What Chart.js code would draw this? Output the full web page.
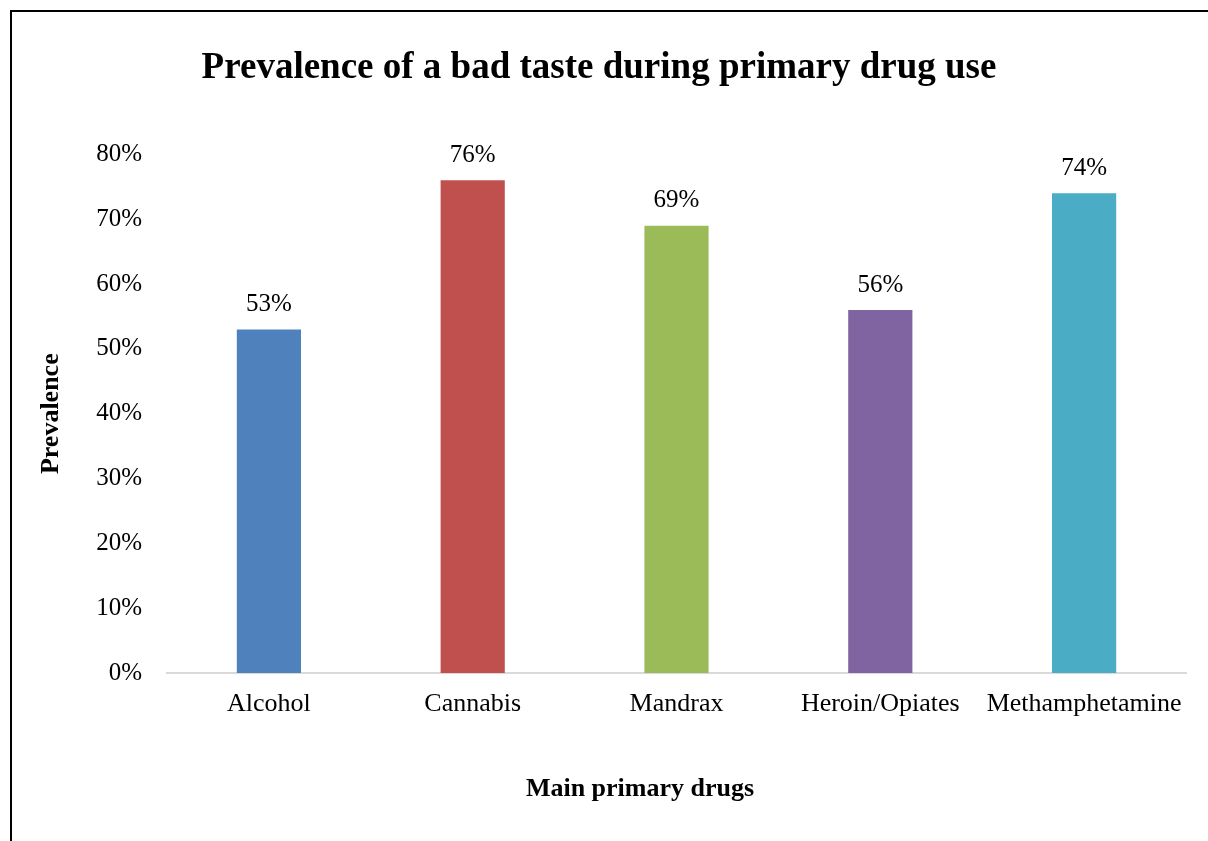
<!DOCTYPE html>
<html>
<head>
<meta charset="utf-8">
<script src="https://cdn.jsdelivr.net/npm/chart.js@4/dist/chart.umd.min.js"></script>
<style>
  html, body { margin: 0; padding: 0; background: #fff; }
  #wrap { position: relative; width: 1208px; height: 841px; }
</style>
</head>
<body>
<div id="wrap"><canvas id="chart" width="1208" height="841"></canvas></div>
<script>
// Main primary drugs and the share of users reporting a bad taste (%)
const categories = ['Alcohol', 'Cannabis', 'Mandrax', 'Heroin/Opiates', 'Methamphetamine'];
const prevalence = [53, 76, 69, 56, 74];
const barColors = ['#4F81BD', '#C0504D', '#9BBB59', '#8064A2', '#4BACC6'];
const yTicks = [0, 10, 20, 30, 40, 50, 60, 70, 80];
const xAxisTitle = 'Main primary drugs';

const serif = '"Liberation Serif", "Times New Roman", serif';

// Thin frame along the top and left edges of the figure
const framePlugin = {
  id: 'frame',
  beforeDraw(chart) {
    const ctx = chart.ctx;
    ctx.save();
    ctx.fillStyle = '#fff';
    ctx.fillRect(0, 0, chart.width, chart.height);
    ctx.strokeStyle = '#000';
    ctx.lineWidth = 2;
    ctx.beginPath();
    ctx.moveTo(11, chart.height);
    ctx.lineTo(11, 11);
    ctx.lineTo(chart.width, 11);
    ctx.stroke();
    ctx.restore();
  }
};

// Value labels above each bar, plus the category axis caption
const valueLabels = {
  id: 'valueLabels',
  afterDatasetsDraw(chart) {
    const ctx = chart.ctx;
    const meta = chart.getDatasetMeta(0);
    const data = chart.data.datasets[0].data;
    ctx.save();
    ctx.font = '25px ' + serif;
    ctx.fillStyle = '#000';
    ctx.textAlign = 'center';
    ctx.textBaseline = 'middle';
    meta.data.forEach((bar, i) => {
      ctx.fillText(data[i] + '%', bar.x, bar.y - 25);
    });
    // caption sits a little left of the plot centre, under the axis
    const xs = chart.scales.x;
    ctx.font = 'bold 26px ' + serif;
    ctx.fillText(xAxisTitle, 640, xs.bottom - 52);
    ctx.restore();
  }
};

new Chart(document.getElementById('chart'), {
  type: 'bar',
  data: {
    labels: categories,
    datasets: [{
      data: prevalence,
      backgroundColor: barColors,
      borderWidth: 0,
      barPercentage: 0.315,
      categoryPercentage: 1
    }]
  },
  options: {
    responsive: false,
    animation: false,
    layout: { padding: { left: 12, right: 22, top: 0, bottom: 0 } },
    plugins: {
      legend: { display: false },
      tooltip: { enabled: false },
      title: {
        display: true,
        text: 'Prevalence of a bad taste during primary drug use',
        color: '#000',
        font: { family: serif, size: 37, weight: 'bold', lineHeight: 1.2 },
        padding: { top: 46, bottom: 64 }
      }
    },
    scales: {
      x: {
        grid: { display: false, drawTicks: false },
        border: { display: true, color: '#D9D9D9', width: 2 },
        ticks: { color: '#000', font: { family: serif, size: 26 }, padding: 16, maxRotation: 0 },
        afterFit(scale) { scale.height = 168; }
      },
      y: {
        min: 0,
        max: 80,
        afterBuildTicks(scale) { scale.ticks = yTicks.map(v => ({ value: v })); },
        grid: { display: false, drawTicks: false },
        border: { display: false },
        ticks: {
          color: '#000',
          font: { family: serif, size: 25 },
          padding: 25,
          callback: v => v + '%'
        },
        title: {
          display: true,
          text: 'Prevalence',
          color: '#000',
          font: { family: serif, size: 26, weight: 'bold', lineHeight: 1.2 },
          padding: { top: 24, bottom: 0 }
        },
        afterFit(scale) { scale.width = 155; }
      }
    }
  },
  plugins: [framePlugin, valueLabels]
});
</script>
</body>
</html>
